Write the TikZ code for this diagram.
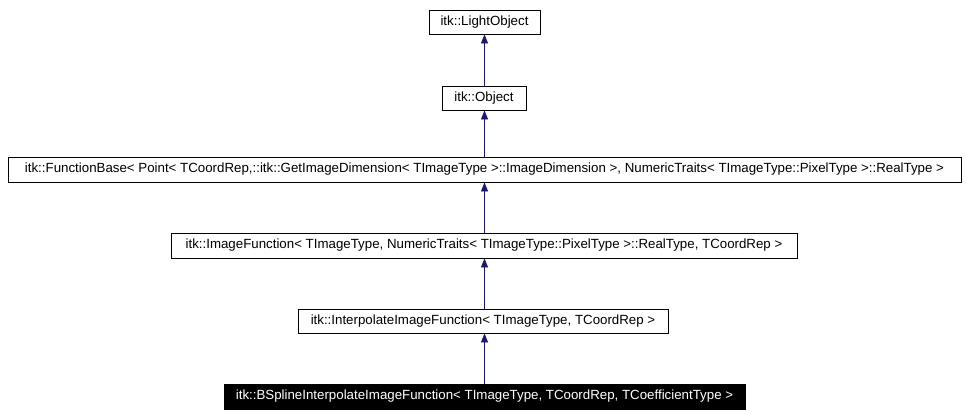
\documentclass[tikz,border=0pt]{standalone}
\usepackage{fontspec}
\setmainfont{Liberation Sans}
\usetikzlibrary{arrows.meta}
\begin{document}
\begin{tikzpicture}[x=1pt,y=-1pt,
  box/.style={draw,line width=0.8pt,inner sep=0pt,font=\fontsize{13.3}{15}\selectfont},
  arr/.style={draw=blue!40!black!90,line width=0.8pt,-{Triangle[length=9pt,width=7pt]}}]
\useasboundingbox (0,0) rectangle (967,415);
\node[box,minimum width=111,minimum height=24] (a) at (484.5,22) {itk::LightObject};
\node[box,minimum width=84,minimum height=24] (b) at (484,98) {itk::Object};
\node[box,minimum width=953,minimum height=25] (c) at (484.5,169.5) {itk::FunctionBase< Point< TCoordRep,::itk::GetImageDimension< TImageType >::ImageDimension >, NumericTraits< TImageType::PixelType >::RealType >};
\node[box,minimum width=626,minimum height=25] (d) at (484,245.5) {itk::ImageFunction< TImageType, NumericTraits< TImageType::PixelType >::RealType, TCoordRep >};
\node[box,minimum width=370,minimum height=24] (e) at (483,321) {itk::InterpolateImageFunction< TImageType, TCoordRep >};
\node[box,fill=black,text=white,minimum width=521,minimum height=25] (f) at (484.5,396.5) {itk::BSplineInterpolateImageFunction< TImageType, TCoordRep, TCoefficientType >};
\draw[arr] (b.north -| a.south) -- (a.south);
\draw[arr] (c.north -| a.south) -- (b.south -| a.south);
\draw[arr] (d.north -| a.south) -- (c.south -| a.south);
\draw[arr] (e.north -| a.south) -- (d.south -| a.south);
\draw[arr] (f.north -| a.south) -- (e.south -| a.south);
\end{tikzpicture}
\end{document}
